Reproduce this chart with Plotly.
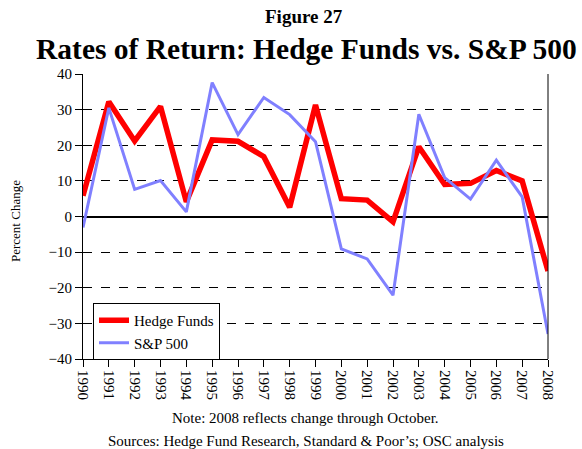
import plotly.graph_objects as go

years = list(range(1990, 2009))
year_labels = [str(y) for y in years]
hedge_funds = [5.8, 32.2, 21.2, 30.9, 4.1, 21.5, 21.1, 16.8, 2.6, 31.3, 5.0, 4.6, -1.5, 19.6, 9.0, 9.3, 12.9, 10.0, -15.3]
sp500 = [-3.1, 30.5, 7.6, 10.1, 1.3, 37.6, 23.0, 33.4, 28.6, 21.0, -9.1, -11.9, -22.1, 28.7, 10.9, 4.9, 15.8, 5.5, -33.0]
y_ticks = [-40, -30, -20, -10, 0, 10, 20, 30, 40]

font = "Liberation Serif, Times New Roman, serif"

W, H = 582, 449
ML, MR, MT, MB = 83, 34, 74, 90
plot_h = H - MT - MB
plot_w = W - ML - MR


def py(pix):
    return (H - MB - pix) / plot_h


def px(pix):
    return (pix - ML) / plot_w


fig = go.Figure()
fig.add_trace(go.Scatter(x=years, y=hedge_funds, mode="lines", name="Hedge Funds",
                         line=dict(color="#ff0000", width=5.5)))
fig.add_trace(go.Scatter(x=years, y=sp500, mode="lines", name="S&P 500",
                         line=dict(color="#8080ff", width=3)))

fig.update_layout(
    width=W, height=H,
    margin=dict(l=ML, r=MR, t=MT, b=MB, autoexpand=False),
    paper_bgcolor="white", plot_bgcolor="white",
    font=dict(family=font, color="black", size=14),
    showlegend=True,
    legend=dict(x=px(93), y=py(303), xanchor="left", yanchor="top",
                bordercolor="black", borderwidth=1, bgcolor="white",
                font=dict(size=15, family=font), tracegroupgap=0,
                itemwidth=30),
    xaxis=dict(range=[1990, 2008], tickvals=years, ticktext=year_labels,
               tickangle=90, showgrid=False, zeroline=False,
               showline=True, linecolor="black", linewidth=1, mirror=False,
               ticks="outside", ticklen=7, tickcolor="black", automargin=False,
               tickfont=dict(size=15, family=font)),
    yaxis=dict(range=[-40, 40], tickvals=y_ticks, showgrid=True,
               gridcolor="black", griddash="dash", gridwidth=1,
               zeroline=True, zerolinecolor="black", zerolinewidth=1.5,
               showline=True, linecolor="black", linewidth=1,
               ticks="outside", ticklen=7, tickcolor="black", automargin=False,
               tickfont=dict(size=15, family=font)),
    annotations=[
        dict(text="<b>Figure 27</b>", x=px(304), y=py(16), xref="paper", yref="paper",
             xanchor="center", yanchor="middle",
             showarrow=False, font=dict(size=19, family=font)),
        dict(text="<b>Rates of Return: Hedge Funds vs. S&P 500</b>", x=px(306), y=py(49),
             xref="paper", yref="paper", xanchor="center", yanchor="middle",
             showarrow=False, font=dict(size=29.5, family=font)),
        dict(text="Percent Change", x=px(15), y=py(221), xref="paper", yref="paper",
             xanchor="center", yanchor="middle", textangle=-90,
             showarrow=False, font=dict(size=13, family=font)),
        dict(text="Note: 2008 reflects change through October.", x=px(305), y=py(418),
             xref="paper", yref="paper", xanchor="center", yanchor="middle",
             showarrow=False, font=dict(size=15, family=font)),
        dict(text="Sources: Hedge Fund Research, Standard & Poor’s; OSC analysis", x=px(306), y=py(441),
             xref="paper", yref="paper", xanchor="center", yanchor="middle",
             showarrow=False, font=dict(size=15, family=font)),
    ],
    shapes=[dict(type="line", xref="paper", yref="paper", x0=1, x1=1, y0=0, y1=1,
                 line=dict(color="black", width=1))],
)

fig.write_html("out.html", config={"displayModeBar": False},
               post_script="document.body.style.margin='0';document.body.style.overflow='hidden';")
